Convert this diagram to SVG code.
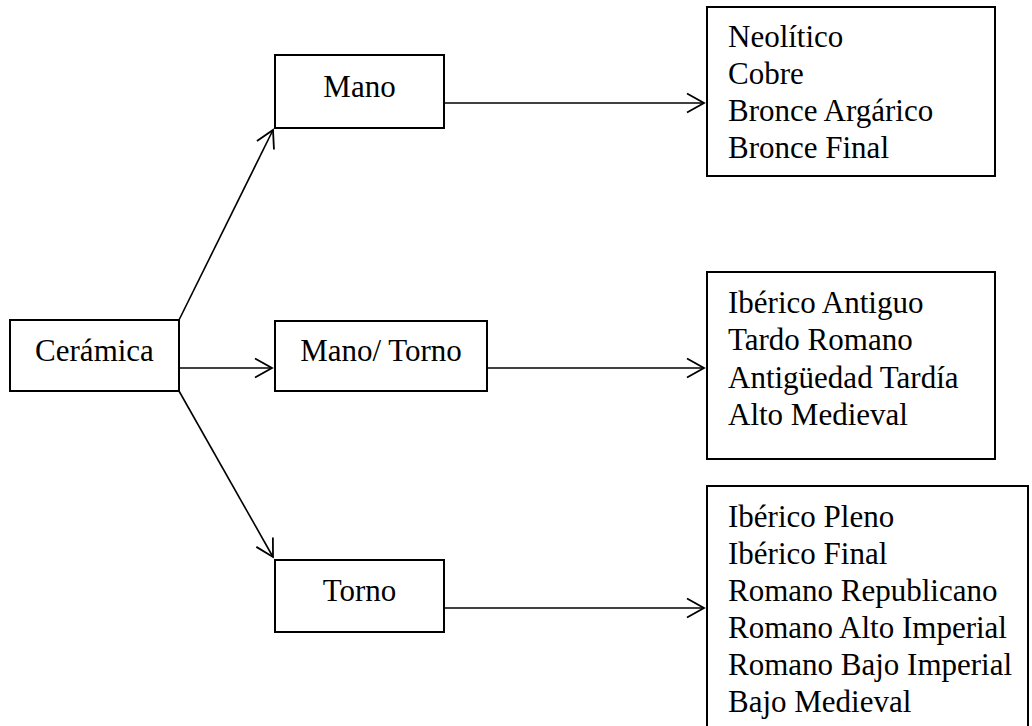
<svg xmlns="http://www.w3.org/2000/svg" width="1032" height="726" viewBox="0 0 1032 726">
<style>
.box{fill:#fff;stroke:#000;stroke-width:2}
.t{font-family:"Liberation Serif","Times New Roman",serif;font-size:31px;fill:#000}
.c{text-anchor:middle}
.con{stroke:#000;stroke-width:1.6;fill:none;marker-end:url(#ah)}
</style>
<defs>
<marker id="ah" viewBox="-20 -12 23 24" markerWidth="23" markerHeight="24" refX="0" refY="0" orient="auto" markerUnits="userSpaceOnUse">
<path d="M-17,-9.5 L0,0 L-17,9.5" fill="none" stroke="#000" stroke-width="1.8"/>
</marker>
</defs>
<rect width="1032" height="726" fill="#fff"/>
<g id="connectors">
<line class="con" x1="179" y1="320" x2="273" y2="130"/>
<line class="con" x1="179" y1="368" x2="272" y2="368"/>
<line class="con" x1="179" y1="391" x2="273" y2="557"/>
<line class="con" x1="444" y1="103" x2="704" y2="103"/>
<line class="con" x1="487" y1="368" x2="704" y2="368"/>
<line class="con" x1="444" y1="608" x2="704" y2="608"/>
</g>
<g id="ceramica">
<rect class="box" x="10" y="320" width="169" height="71"/>
<text class="t c" x="94.5" y="361">Cerámica</text>
</g>
<g id="mano">
<rect class="box" x="275" y="55" width="169" height="73"/>
<text class="t c" x="359.5" y="97">Mano</text>
</g>
<g id="manotorno">
<rect class="box" x="275" y="321" width="212" height="70"/>
<text class="t c" x="381" y="361">Mano/ Torno</text>
</g>
<g id="torno">
<rect class="box" x="275" y="560" width="169" height="72"/>
<text class="t c" x="359.5" y="601">Torno</text>
</g>
<g id="periodos-mano">
<rect class="box" x="707" y="7" width="288" height="169"/>
<text class="t" x="728" y="47">Neolítico</text>
<text class="t" x="728" y="84">Cobre</text>
<text class="t" x="728" y="121">Bronce Argárico</text>
<text class="t" x="728" y="158">Bronce Final</text>
</g>
<g id="periodos-manotorno">
<rect class="box" x="707" y="272" width="288" height="187"/>
<text class="t" x="728" y="313">Ibérico Antiguo</text>
<text class="t" x="728" y="350">Tardo Romano</text>
<text class="t" x="728" y="388">Antigüedad Tardía</text>
<text class="t" x="728" y="425">Alto Medieval</text>
</g>
<g id="periodos-torno">
<rect class="box" x="707" y="486" width="321" height="260"/>
<text class="t" x="728" y="527">Ibérico Pleno</text>
<text class="t" x="728" y="564">Ibérico Final</text>
<text class="t" x="728" y="601">Romano Republicano</text>
<text class="t" x="728" y="638">Romano Alto Imperial</text>
<text class="t" x="728" y="675">Romano Bajo Imperial</text>
<text class="t" x="728" y="712">Bajo Medieval</text>
</g>
</svg>
